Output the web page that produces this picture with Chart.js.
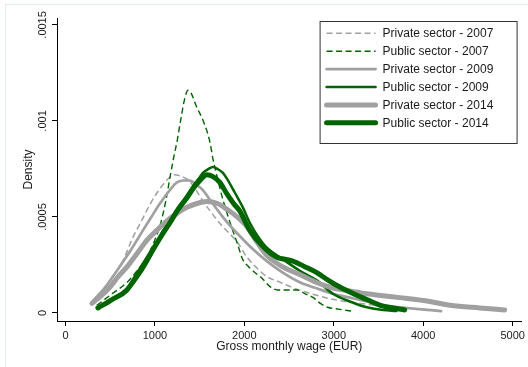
<!DOCTYPE html>
<html><head><meta charset="utf-8">
<script src="https://cdn.jsdelivr.net/npm/chart.js@4/dist/chart.umd.min.js"></script>
<style>
html,body{margin:0;padding:0;background:#fff;}
#wrap{position:relative;width:528px;height:367px;overflow:hidden;}
#frame{position:absolute;left:5px;top:4px;width:600px;height:400px;border-top:1px solid #e2ebee;border-left:1px solid #e2ebee;pointer-events:none;}
canvas{display:block;}
</style></head><body>
<div id="wrap"><canvas id="c" width="528" height="367"></canvas><div id="frame"></div></div>
<script>
const FONT = '"Liberation Sans", Arial, sans-serif';
const GRAY = '#a0a0a0';
const GREEN = '#006400';

const seriesLabels = ['Private sector - 2007','Public sector - 2007','Private sector - 2009','Public sector - 2009','Private sector - 2014','Public sector - 2014'];

const privateX2007 = [300,420,530,650,750,850,950,1030,1130,1220,1300,1380,1460,1540,1620,1720,1820,1920,2030,2150,2250,2400,2550,2750,3000,3300,3650,4000];
const privateY2007 = [0.00006,0.00012,0.00019,0.00028,0.00039,0.00048,0.00057,0.00063,0.00069,0.00072,0.00071,0.00069,0.00064,0.00058,0.00053,0.00047,0.00042,0.00037,0.00029,0.00023,0.00019,0.00016,0.00013,0.0001,0.00007,0.00005,0.00003,0.00002];

const publicX2007 = [350,520,690,800,910,990,1060,1120,1170,1210,1250,1290,1330,1370,1410,1460,1540,1610,1650,1700,1760,1820,1870,1930,1980,2050,2120,2200,2280,2370,2470,2590,2680,2770,2850,2930,3050,3200];
const publicY2007 = [0.00004,0.0001,0.00016,0.00022,0.00029,0.00037,0.00046,0.00058,0.00071,0.00081,0.0009,0.00101,0.00111,0.00116,0.00114,0.00108,0.001,0.0009,0.0008,0.0007,0.00059,0.0005,0.00043,0.00035,0.00028,0.00024,0.00021,0.00018,0.00014,0.00012,0.00012,0.00012,0.0001,0.00008,0.00005,0.00003,0.00002,0.00001];

const privateX2009 = [300,420,575,720,866,960,1056,1150,1246,1320,1391,1460,1536,1630,1726,1830,1950,2100,2251,2430,2620,2800,2990,3180,3369,3550,3737,3950,4200];
const privateY2009 = [0.00006,0.00012,0.00022,0.00032,0.00043,0.0005,0.00057,0.00063,0.00068,0.00069,0.00069,0.00067,0.00064,0.00058,0.00052,0.00046,0.0004,0.00033,0.00027,0.00021,0.00016,0.00013,0.0001,0.00008,0.00006,0.00004,0.00003,0.00002,0.00001];

const publicX2009 = [352,520,687,800,911,990,1056,1150,1246,1340,1425,1490,1536,1600,1648,1700,1760,1805,1890,1983,2061,2150,2251,2430,2620,2810,2990,3179,3369,3550,3700];
const publicY2009 = [0.00003,0.00007,0.00012,0.00018,0.00026,0.00033,0.0004,0.00047,0.00054,0.0006,0.00066,0.0007,0.00073,0.00075,0.00076,0.00075,0.00073,0.0007,0.00063,0.00055,0.00047,0.0004,0.00034,0.00028,0.00022,0.00017,0.0001,0.00006,0.00003,0.000015,0.00001];

const privateX2014 = [296,400,497,590,687,800,911,1020,1134,1250,1358,1470,1581,1700,1805,1920,2028,2140,2251,2430,2620,2800,2990,3180,3369,3550,3737,4073,4300,4631,4911];
const privateY2014 = [0.00005,0.00009,0.000135,0.00019,0.00024,0.00031,0.00038,0.00043,0.00048,0.00052,0.00055,0.00057,0.00058,0.00057,0.00054,0.0005,0.00045,0.00037,0.0003,0.00024,0.0002,0.00016,0.00013,0.000115,0.0001,0.00009,0.00008,0.00006,0.00004,0.000026,0.000016];

const publicX2014 = [363,520,687,830,978,1070,1168,1260,1358,1430,1503,1581,1650,1726,1805,1880,1950,2061,2200,2363,2450,2542,2680,2810,2940,3067,3220,3369,3520,3660,3793];
const publicY2014 = [0.000026,0.00007,0.00012,0.00022,0.00033,0.0004,0.00047,0.00054,0.0006,0.00065,0.00069,0.00072,0.00071,0.00068,0.00062,0.00057,0.00053,0.00043,0.00035,0.00029,0.00028,0.00027,0.00024,0.00021,0.00017,0.000135,0.0001,0.00007,0.00004,0.000026,0.000016];

const xTicks = [0,1000,2000,3000,4000,5000];
const xTickLabels = ['0','1000','2000','3000','4000','5000'];
const yTicks = [0,0.0005,0.001,0.0015];
const yTickLabels = ['0','.0005','.001','.0015'];

function pts(xs, ys){ return xs.map((x,i)=>({x:x, y:ys[i]})); }

const styles = [
  {color:GRAY, width:1.5, dash:[6,3.5]},
  {color:GREEN, width:1.4, dash:[6,3.5]},
  {color:GRAY, width:2.7, dash:null},
  {color:GREEN, width:2.5, dash:null},
  {color:GRAY, width:5, dash:null},
  {color:GREEN, width:5, dash:null}
];
const seriesData = [
  pts(privateX2007, privateY2007), pts(publicX2007, publicY2007),
  pts(privateX2009, privateY2009), pts(publicX2009, publicY2009),
  pts(privateX2014, privateY2014), pts(publicX2014, publicY2014)
];

const datasets = seriesData.map((d,i)=>({
  label: seriesLabels[i],
  data: d,
  borderColor: styles[i].color,
  borderWidth: styles[i].width,
  borderDash: styles[i].dash || [],
  borderCapStyle: styles[i].dash ? 'butt' : 'round',
  borderJoinStyle: 'round',
  pointRadius: 0,
  fill: false,
  cubicInterpolationMode: 'monotone',
  order: 6 - i
}));

const legendPlugin = {
  id: 'boxLegend',
  afterDraw(chart){
    const ctx = chart.ctx, ca = chart.chartArea;
    const L = ca.right - 202, T = ca.top + 3, W = 197, H = 122;
    ctx.save();
    ctx.fillStyle = '#fff'; ctx.fillRect(L, T, W, H);
    ctx.strokeStyle = '#333'; ctx.lineWidth = 1; ctx.setLineDash([]);
    ctx.strokeRect(L + 0.5, T + 0.5, W, H);
    chart.data.datasets.forEach((ds, i) => {
      const y = T + 12.3 + i * 17.9;
      ctx.beginPath();
      ctx.setLineDash(ds.borderDash || []);
      ctx.lineWidth = ds.borderWidth;
      ctx.strokeStyle = ds.borderColor;
      ctx.lineCap = ds.borderCapStyle;
      ctx.moveTo(L + 7, y); ctx.lineTo(L + 56, y); ctx.stroke();
      ctx.setLineDash([]);
      ctx.fillStyle = '#1a1a1a';
      ctx.font = '12px ' + FONT;
      ctx.textBaseline = 'middle'; ctx.textAlign = 'left';
      ctx.fillText(ds.label, L + 63, y + 0.5);
    });
    ctx.restore();
  }
};

new Chart(document.getElementById('c'), {
  type: 'line',
  data: { datasets: datasets },
  plugins: [legendPlugin],
  options: {
    responsive: false,
    devicePixelRatio: 1,
    animation: false,
    parsing: true,
    layout: { padding: { left: 0, right: 6, top: 18, bottom: 0 } },
    plugins: { legend: { display: false }, tooltip: { enabled: false }, title: { display: false } },
    scales: {
      x: {
        type: 'linear', min: -95, max: 5100,
        afterBuildTicks: s => { s.ticks = xTicks.map(v => ({ value: v })); },
        afterFit: s => { s.height = 46; },
        grid: { drawOnChartArea: false, drawTicks: true, tickLength: 5, color: '#000', lineWidth: 1 },
        border: { display: true, color: '#000', width: 1 },
        ticks: { color: '#1a1a1a', font: { family: FONT, size: 11 }, padding: 3, maxRotation: 0, autoSkip: false,
                 callback: (v, i) => xTickLabels[i] },
        title: { display: true, text: 'Gross monthly wage (EUR)', color: '#1a1a1a', font: { family: FONT, size: 12 }, padding: { top: 0, bottom: 13 } }
      },
      y: {
        type: 'linear', min: -0.0000417, max: 0.001536,
        afterBuildTicks: s => { s.ticks = yTicks.map(v => ({ value: v })); },
        afterFit: s => { s.width = 57; },
        grid: { drawOnChartArea: false, drawTicks: true, tickLength: 5, color: '#000', lineWidth: 1 },
        border: { display: true, color: '#000', width: 1 },
        ticks: { color: '#1a1a1a', font: { family: FONT, size: 11 }, padding: -5, minRotation: 90, maxRotation: 90,
                 crossAlign: 'center', autoSkip: false, callback: (v, i) => yTickLabels[i] },
        title: { display: true, text: 'Density', color: '#1a1a1a', font: { family: FONT, size: 12 }, padding: { top: 21, bottom: 0 } }
      }
    }
  }
});
</script>
</body></html>
